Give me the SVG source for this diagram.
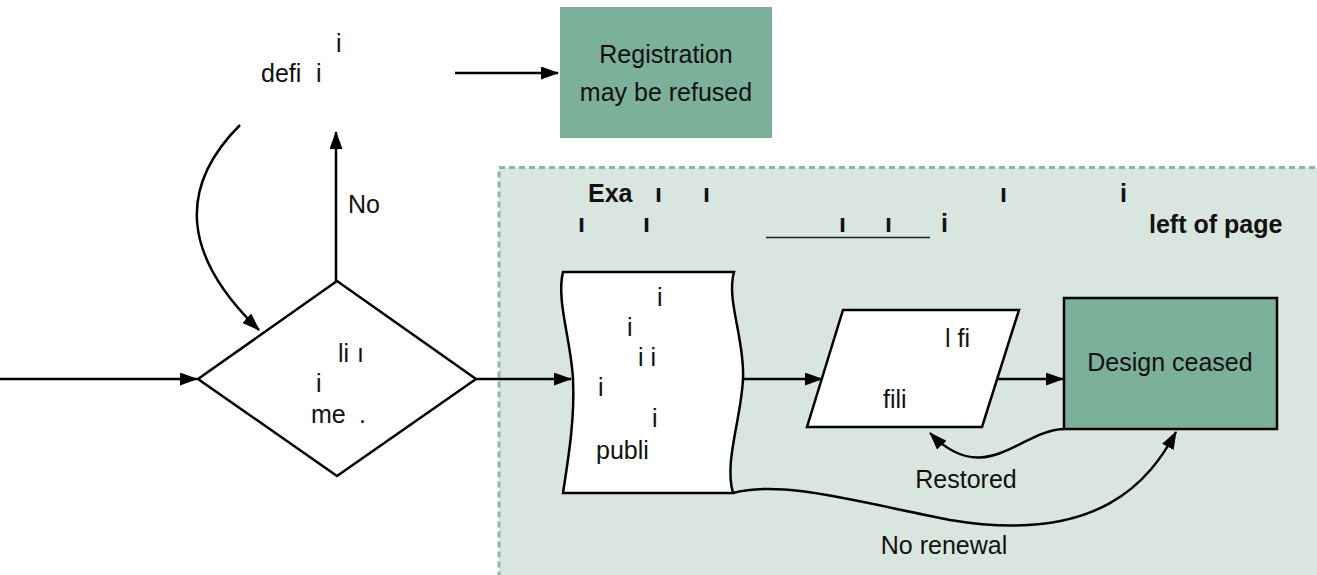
<svg xmlns="http://www.w3.org/2000/svg" width="1317" height="575" viewBox="0 0 1317 575">
<style>
.t{font-family:"Liberation Sans",Arial,sans-serif;font-size:25px;fill:#111}
.b{font-family:"Liberation Sans",Arial,sans-serif;font-size:25px;font-weight:bold;fill:#111}
.c{stroke:#000;stroke-width:2.5;fill:none}
.s{stroke:#000;stroke-width:2.5;fill:#fff}
.g{fill:#7db09b}
</style>
<defs>
<marker id="ah" viewBox="0 0 18 13" refX="17" refY="6.5" markerWidth="18" markerHeight="13" markerUnits="userSpaceOnUse" orient="auto">
<path d="M0,0 L18,6.5 L0,13 Z" fill="#000"/>
</marker>
</defs>
<rect width="1317" height="575" fill="#fff"/>
<g id="example-area">
<rect x="499" y="167.5" width="830" height="420" fill="#d9e6df" stroke="#8cb9a4" stroke-width="3" stroke-dasharray="6,4"/>
<text class="b" x="588" y="202">Exa</text>
<text class="b" x="655" y="202">ı</text>
<text class="b" x="703" y="202">ı</text>
<text class="b" x="1000" y="202">ı</text>
<text class="b" x="1120" y="202">i</text>
<text class="b" x="578" y="232">ı</text>
<text class="b" x="643" y="232">ı</text>
<line x1="766" y1="237.5" x2="930" y2="237.5" stroke="#222" stroke-width="1.5"/>
<text class="b" x="839" y="232">ı</text>
<text class="b" x="885" y="232">ı</text>
<text class="b" x="941" y="232">i</text>
<text class="b" x="1149" y="233" font-size="25.8">left of page</text>
</g>
<g id="top-text">
<text class="t" x="336" y="52">i</text>
<text class="t" x="261" y="82">defi</text>
<text class="t" x="316" y="82">i</text>
</g>
<g id="registration-refused">
<rect class="g" x="560" y="7" width="212" height="131"/>
<text class="t" x="666" y="63" text-anchor="middle" font-size="24">Registration</text>
<text class="t" x="666" y="101" text-anchor="middle" font-size="24">may be refused</text>
</g>
<g id="decision">
<polygon class="s" points="198,379 337,281 476,379 337,476"/>
<text class="t" x="338" y="362">li</text>
<text class="t" x="357" y="362">ı</text>
<text class="t" x="316" y="392">i</text>
<text class="t" x="311" y="423">me</text>
<text class="t" x="359" y="423">.</text>
</g>
<g id="document">
<path class="s" d="M563,272 L734,272 C726,300 745,340 743,379 C741,420 724,462 733,493 L563,493 C568,460 575,420 573,379 C571,340 556,300 563,272 Z"/>
<text class="t" x="657" y="306">i</text>
<text class="t" x="627" y="336">i</text>
<text class="t" x="638" y="366">i i</text>
<text class="t" x="598" y="396">i</text>
<text class="t" x="652" y="427">i</text>
<text class="t" x="596" y="459">publi</text>
</g>
<g id="parallelogram">
<polygon class="s" points="843,310 1019,310 982,427 807,427"/>
<text class="t" x="945" y="347">l fi</text>
<text class="t" x="883" y="408">fili</text>
</g>
<g id="design-ceased">
<rect class="g" x="1064" y="298" width="213" height="131" stroke="#000" stroke-width="2.5"/>
<text class="t" x="1170" y="371" text-anchor="middle">Design ceased</text>
</g>
<g id="connectors">
<line class="c" x1="455" y1="73" x2="558" y2="73" marker-end="url(#ah)"/>
<path class="c" d="M240,125 Q145,220 259,330" marker-end="url(#ah)"/>
<line class="c" x1="336" y1="281" x2="336" y2="132" marker-end="url(#ah)"/>
<text class="t" x="348" y="213">No</text>
<line class="c" x1="0" y1="379" x2="197" y2="379" marker-end="url(#ah)"/>
<line class="c" x1="476" y1="379" x2="571" y2="379" marker-end="url(#ah)"/>
<line class="c" x1="743" y1="379" x2="822" y2="379" marker-end="url(#ah)"/>
<line class="c" x1="997" y1="379" x2="1063" y2="379" marker-end="url(#ah)"/>
<path class="c" d="M1064,429 C1020,430 985,490 930,433" marker-end="url(#ah)"/>
<text class="t" x="966" y="488" text-anchor="middle">Restored</text>
<path class="c" d="M733,493 C780,480 850,500 950,520 C1100,545 1150,480 1176,432" marker-end="url(#ah)"/>
<text class="t" x="944" y="554" text-anchor="middle">No renewal</text>
</g>
</svg>
